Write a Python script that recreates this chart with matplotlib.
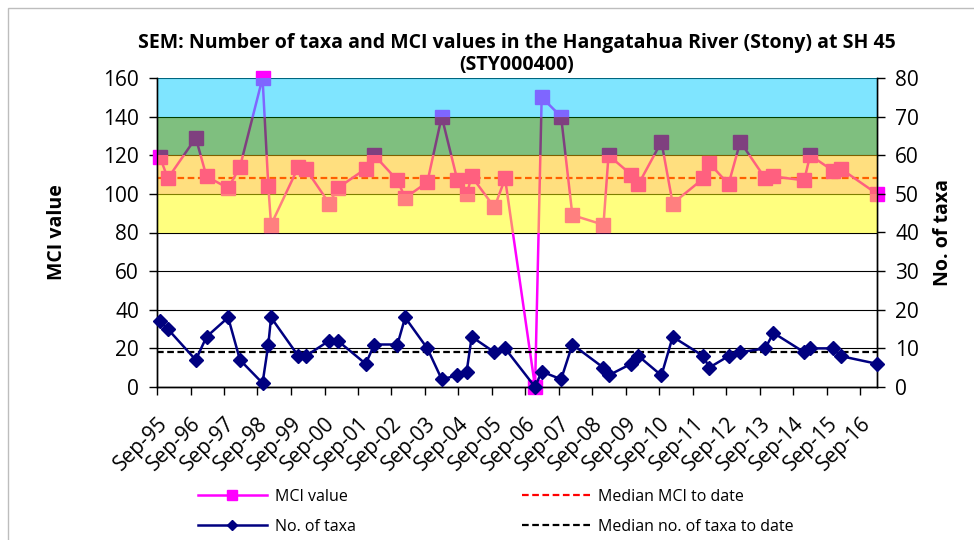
import numpy as np
import matplotlib
matplotlib.use("Agg")
import matplotlib.pyplot as plt
import matplotlib.dates as mdates
from matplotlib.lines import Line2D
from matplotlib.patches import Rectangle

plt.rcParams["font.family"] = ["Open Sans", "DejaVu Sans"]

# survey dates, MCI score and taxa count per survey
survey_dates = [
    "1995-10-04", "1995-12-28", "1996-10-28", "1997-02-22", "1997-10-16",
    "1998-02-22", "1998-10-26", "1998-12-28", "1999-01-27", "1999-11-21",
    "2000-02-08", "2000-10-23", "2001-01-22", "2001-11-24", "2002-02-26",
    "2002-11-05", "2003-01-28", "2003-09-27", "2004-03-02", "2004-08-20",
    "2004-11-29", "2005-01-23", "2005-09-28", "2006-01-22", "2006-12-15",
    "2007-02-25", "2007-09-25", "2008-01-26", "2008-12-30", "2009-02-23",
    "2009-10-28", "2010-01-16", "2010-09-23", "2011-01-24", "2011-12-25",
    "2012-02-25", "2012-09-24", "2013-01-30", "2013-10-29", "2014-01-27",
    "2014-12-28", "2015-03-03", "2015-11-07", "2016-02-01", "2017-03-01",
]
mci_values = [
    119, 108, 129, 109, 103, 114, 160, 104, 84, 114,
    113, 95, 103, 113, 120, 107, 98, 106, 140, 107,
    100, 109, 93, 108, 0, 150, 140, 89, 84, 120,
    110, 105, 127, 95, 108, 116, 105, 127, 108, 109,
    107, 120, 112, 113, 100,
]
taxa_counts = [
    17, 15, 7, 13, 18, 7, 1, 11, 18, 8,
    8, 12, 12, 6, 11, 11, 18, 10, 2, 3,
    4, 13, 9, 10, 0, 4, 2, 11, 5, 3,
    6, 8, 3, 13, 8, 5, 8, 9, 10, 14,
    9, 10, 10, 8, 6,
]
median_mci = 108
median_taxa = 9

# MCI quality bands: (lower, upper, colour)
band_edges = [(80, 100), (100, 120), (120, 140), (140, 160)]
band_colors = ["#FFFF00", "#FFC000", "#008000", "#00CCFF"]

dates = np.array(survey_dates, dtype="datetime64[D]")

fig = plt.figure(figsize=(9.74, 5.4), dpi=100)
fig.add_artist(Rectangle((8 / 974, -0.1), 1.2, 1.1 - 8 / 540, fill=False,
                         ec="#BDBDBD", lw=1.0, transform=fig.transFigure))

ax = fig.add_axes([157 / 974, 1 - 387 / 540, 720 / 974, 309 / 540])
ax2 = ax.twinx()

ax.set_axisbelow(True)
ax.yaxis.grid(True, color="black", lw=0.8)
ax.plot(dates, mci_values, color="#FF00FF", lw=1.8, marker="s", ms=10,
        mec="#FF00FF", zorder=3, clip_on=False)
ax.axhline(median_mci, color="#FF0000", ls=(0, (3, 1.6)), lw=1.6, zorder=2.5)
for (lo, hi), c in zip(band_edges, band_colors):
    ax.axhspan(lo, hi, color=c, alpha=0.5, lw=0, zorder=4)

ax2.plot(dates, taxa_counts, color="#000080", lw=1.8, marker="D", ms=7,
         mec="#000080", zorder=3, clip_on=False)
ax2.axhline(median_taxa, color="black", ls=(0, (3, 1.6)), lw=1.6, zorder=2)

ax.set_xlim(np.datetime64("1995-09-01"), np.datetime64("2017-03-01"))
ax.set_ylim(0, 160)
ax.set_yticks(range(0, 161, 20))
ax2.set_ylim(0, 80)
ax2.set_yticks(range(0, 81, 10))
ax.xaxis.set_major_locator(mdates.YearLocator(month=9, day=1))
ax.xaxis.set_major_formatter(mdates.DateFormatter("%b-%y"))

for a in (ax, ax2):
    a.spines["top"].set_visible(False)
    for s in ("left", "right", "bottom"):
        a.spines[s].set_linewidth(1.0)
ax.tick_params(axis="y", direction="out", length=6, width=1, labelsize=15, pad=7)
ax2.tick_params(axis="y", direction="out", length=6, width=1, labelsize=15, pad=7)
ax.tick_params(axis="x", direction="out", length=6, width=1, labelsize=15, pad=13)
plt.setp(ax.get_xticklabels(), rotation=45, ha="right", va="top",
         rotation_mode="anchor")

ax.set_ylabel("MCI value", fontsize=14, fontweight="bold", labelpad=26)
ax2.set_ylabel("No. of taxa", fontsize=14, fontweight="bold", labelpad=10)
ax.set_title("SEM: Number of taxa and MCI values in the Hangatahua River (Stony) at SH 45\n"
             "(STY000400)", fontsize=14, fontweight="bold", pad=6, linespacing=1.1)

handles = [
    Line2D([], [], color="#FF00FF", lw=1.8, marker="s", ms=7),
    Line2D([], [], color="#000080", lw=1.8, marker="D", ms=5),
    Line2D([], [], color="#FF0000", lw=1.6, ls=(0, (3, 1.6))),
    Line2D([], [], color="black", lw=1.6, ls=(0, (3, 1.6))),
]
labels = ["MCI value", "No. of taxa", "Median MCI to date", "Median no. of taxa to date"]
fig.legend(handles, labels, loc="upper left", bbox_to_anchor=(198 / 974, 1 - 489 / 540),
           ncol=2, frameon=False, fontsize=11.5, borderpad=0, borderaxespad=0,
           handlelength=4.3, handletextpad=0.5, columnspacing=10.4, labelspacing=0.85)

fig.savefig("out.png", dpi=100)
